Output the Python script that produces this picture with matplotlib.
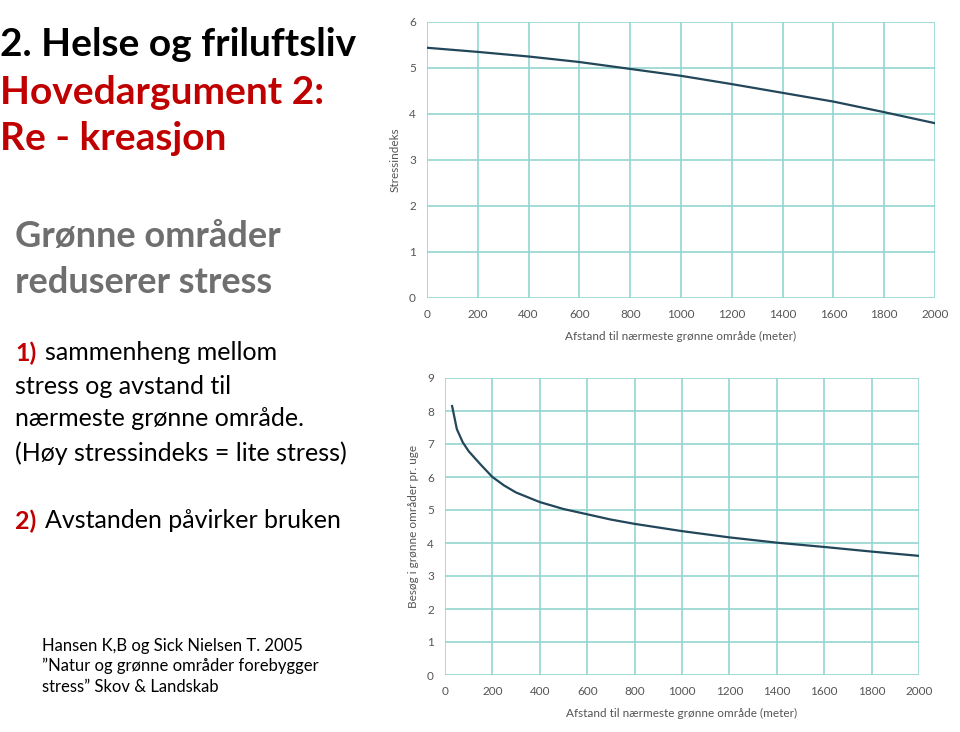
import matplotlib.pyplot as plt

# data
dist_top = [0, 200, 400, 600, 800, 1000, 1200, 1400, 1600, 1800, 2000]
stress_idx = [5.44, 5.35, 5.25, 5.13, 4.98, 4.83, 4.65, 4.46, 4.27, 4.04, 3.80]

dist_bot = [30, 50, 75, 100, 150, 200, 250, 300, 400, 500, 600, 700, 800, 1000, 1200, 1400, 1600, 1800, 2000]
visits = [8.15, 7.45, 7.05, 6.78, 6.38, 6.0, 5.74, 5.53, 5.24, 5.03, 4.87, 4.71, 4.58, 4.36, 4.17, 4.01, 3.88, 3.74, 3.61]

x_ticks = [0, 200, 400, 600, 800, 1000, 1200, 1400, 1600, 1800, 2000]

RED = '#c00000'
GRAY = '#6f6f6f'
GRID = '#93d5d1'
LINE = '#22465a'

plt.rcParams['font.family'] = ['Lato', 'DejaVu Sans']

fig = plt.figure(figsize=(9.6, 7.32), dpi=100)

# slide text on the left
def txt(x, y, s, size, color='black', weight='normal'):
    fig.text(x / 960, 1 - y / 732, s, fontsize=size, color=color, weight=weight,
             va='center', ha='left')

txt(0, 45, '2. Helse og friluftsliv', 28, 'black', 'bold')
txt(0, 92, 'Hovedargument 2:', 28, RED, 'bold')
txt(0, 138, 'Re - kreasjon', 28, RED, 'bold')
txt(15, 236, 'Grønne områder', 26, GRAY, 'bold')
txt(15, 283, 'reduserer stress', 26, GRAY, 'bold')

txt(15, 353, '1)', 18, RED, 'bold')
txt(45, 353, 'sammenheng mellom', 18)
txt(15, 386, 'stress og avstand til', 18)
txt(15, 419, 'nærmeste grønne område.', 18)
txt(15, 453, '(Høy stressindeks = lite stress)', 18)
txt(15, 521, '2)', 18, RED, 'bold')
txt(45, 521, 'Avstanden påvirker bruken', 18)

txt(42, 646, 'Hansen K,B og Sick Nielsen T. 2005', 12)
txt(42, 666, '\u201dNatur og grønne områder forebygger', 12)
txt(42, 687, 'stress\u201d Skov & Landskab', 12)


def style(ax, ymax, ylabel):
    ax.set_xlim(0, 2000)
    ax.set_ylim(0, ymax)
    ax.set_xticks(x_ticks)
    ax.set_yticks(range(0, ymax + 1))
    for sp in ax.spines.values():
        sp.set_visible(False)
    ax.grid(True, color=GRID, linewidth=1.2)
    ax.set_axisbelow(True)
    ax.tick_params(length=0, labelsize=8.5, colors='#555555', pad=8)
    ax.set_xlabel('Afstand til nærmeste grønne område (meter)', fontsize=8.5,
                  color='#555555', labelpad=8)
    ax.set_ylabel(ylabel, fontsize=8.5, color='#555555', labelpad=6)


# top chart: stress index
ax1 = fig.add_axes([427 / 960, 1 - 298 / 732, (935 - 427) / 960, (298 - 22) / 732])
ax1.plot(dist_top, stress_idx, color=LINE, linewidth=1.6)
style(ax1, 6, 'Stressindeks')

# bottom chart: visits per week
ax2 = fig.add_axes([445 / 960, 1 - 675 / 732, (919 - 445) / 960, (675 - 378) / 732])
ax2.plot(dist_bot, visits, color=LINE, linewidth=1.6)
style(ax2, 9, 'Besøg i grønne områder pr. uge')

fig.savefig('out.png', dpi=100)
